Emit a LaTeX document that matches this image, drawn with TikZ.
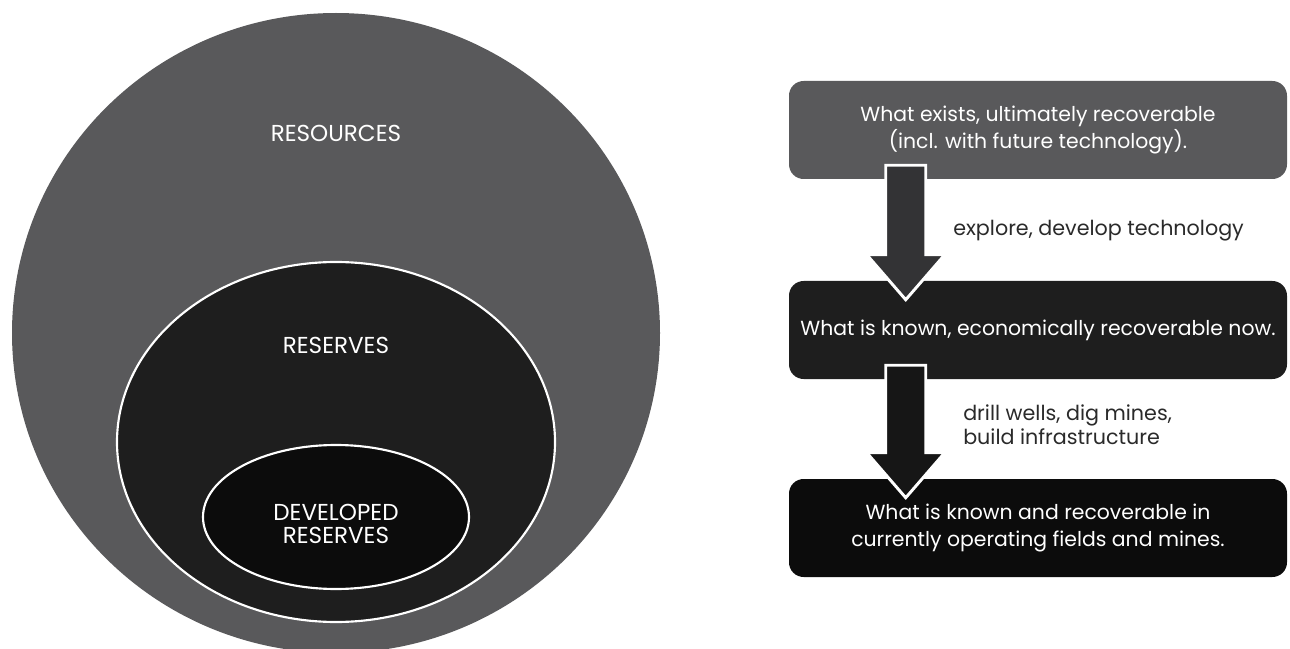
\documentclass[tikz,border=0pt]{standalone}
\usepackage{fontspec}
\setmainfont{Poppins}
\usetikzlibrary{calc}
\definecolor{greyA}{HTML}{59595B}
\definecolor{darkB}{HTML}{1E1E1E}
\definecolor{blackC}{HTML}{0C0C0C}
\definecolor{arrowA}{HTML}{333335}
\definecolor{arrowB}{HTML}{161616}
\definecolor{labelC}{HTML}{2A2A2A}
\tikzset{
  ell/.style={draw=white, line width=1.6pt},
  box/.style={rounded corners=11pt, minimum width=373.5pt, minimum height=73.5pt,
    text=white, align=center, inner sep=0pt, font=\fontsize{15.3}{20.5}\selectfont},
  lbl/.style={text=white, align=center, font=\fontsize{17.3}{17.5}\selectfont},
  side/.style={text=labelC, align=left, anchor=west, inner sep=0pt, font=\fontsize{15.5}{18}\selectfont},
  bigarr/.style={draw=white, line width=2.2pt, line join=miter}
}
\begin{document}
\begin{tikzpicture}[x=0.75pt, y=-0.75pt]
\useasboundingbox (0,0) rectangle (1290,649);
% left: nested ellipses
\fill[greyA] (336,333) ellipse [x radius=324, y radius=320];
\node[lbl] (res) at (336,133) {RESOURCES};
\draw[ell, fill=darkB] (336,442) ellipse [x radius=219, y radius=180];
\node[lbl] (rsv) at (336,345) {RESERVES};
\draw[ell, fill=blackC] (336,517) ellipse [x radius=133, y radius=72];
\node[lbl] (dev) at (336,524) {DEVELOPED\\RESERVES};
% right: flow
\node[box, fill=greyA] (b1) at (1038,130) {What exists, ultimately recoverable\\(incl. with future technology).};
\node[box, fill=darkB] (b2) at (1038,330) {What is known, economically recoverable now.};
\node[box, fill=blackC] (b3) at (1038,528) {What is known and recoverable in\\currently operating fields and mines.};
% arrows
\coordinate (a1top) at ($(b1.south west)+(117,-14)$);
\coordinate (a1tip) at ($(b2.north west)+(117,19)$);
\coordinate (a2top) at ($(b2.south west)+(117,-14)$);
\coordinate (a2tip) at ($(b3.north west)+(117,19)$);
\draw[bigarr, fill=arrowA] ($(a1top)+(-20,0)$) -- ($(a1top)+(20,0)$) -- ($(a1tip)+(20,-45)$) -- ($(a1tip)+(39,-45)$) -- (a1tip) -- ($(a1tip)+(-39,-45)$) -- ($(a1tip)+(-20,-45)$) -- cycle;
\draw[bigarr, fill=arrowB] ($(a2top)+(-20,0)$) -- ($(a2top)+(20,0)$) -- ($(a2tip)+(20,-45)$) -- ($(a2tip)+(39,-45)$) -- (a2tip) -- ($(a2tip)+(-39,-45)$) -- ($(a2tip)+(-20,-45)$) -- cycle;
\node[side] (l1) at (953,231) {explore, develop technology};
\node[side] (l2) at (963,425) {drill wells, dig mines,\\build infrastructure};
\end{tikzpicture}
\end{document}
